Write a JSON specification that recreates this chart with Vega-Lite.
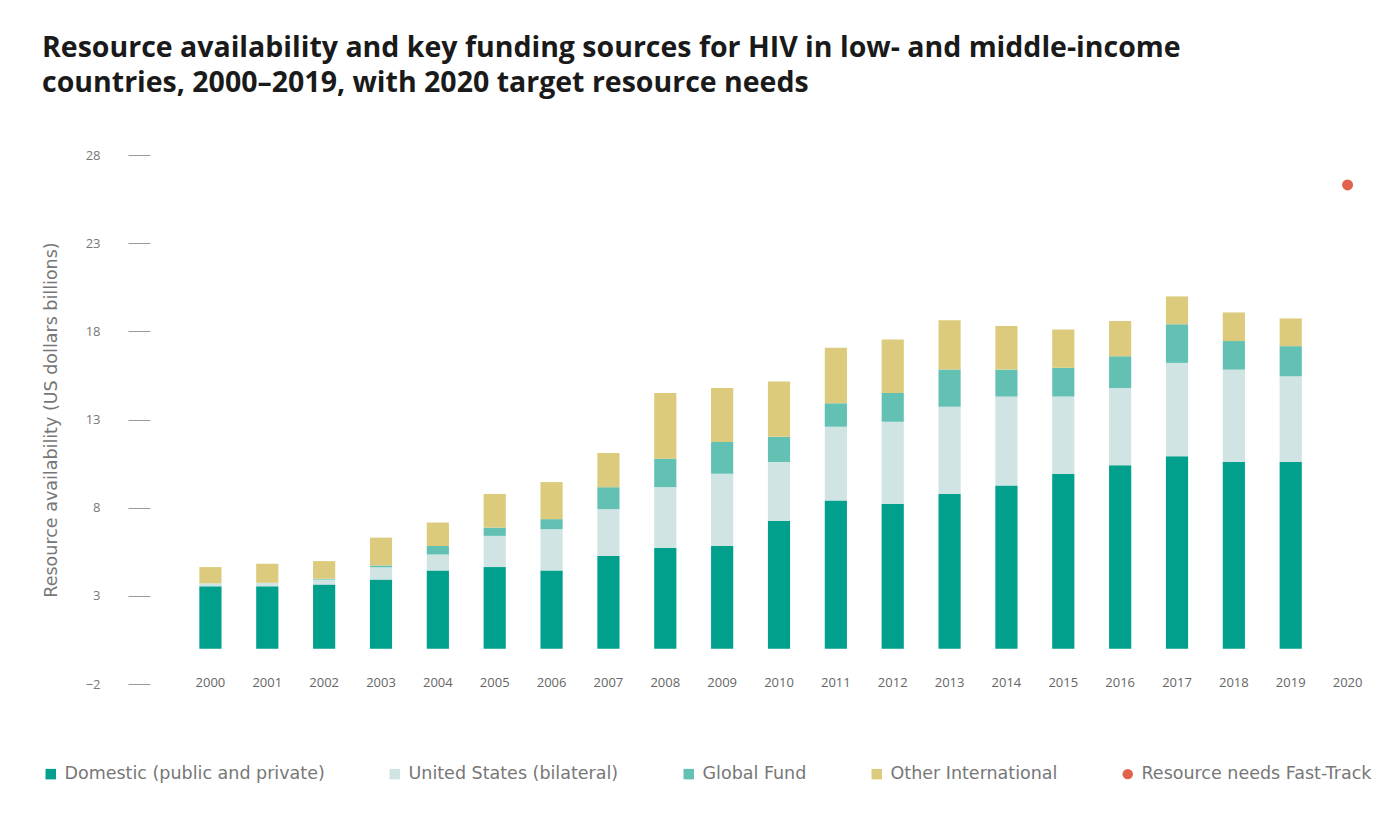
{
  "$schema": "https://vega.github.io/schema/vega-lite/v6.json",
  "width": 1194,
  "height": 529,
  "autosize": {"type": "none"},
  "padding": {"left": 182, "top": 155, "right": 5, "bottom": 140},
  "background": "white",
  "title": {
    "text": ["Resource availability and key funding sources for HIV in low- and middle-income", "countries, 2000–2019, with 2020 target resource needs"],
    "anchor": "start",
    "frame": "group",
    "dx": -140,
    "offset": 52,
    "font": "Open Sans",
    "fontSize": 28.5,
    "fontWeight": "bold",
    "color": "#1a1a1a",
    "lineHeight": 35
  },
  "config": {
    "view": {"stroke": null},
    "axis": {"labelFont": "Open Sans", "titleFont": "DejaVu Sans", "labelColor": "#777777", "titleColor": "#777777"},
    "legend": {"labelFont": "DejaVu Sans"}
  },
  "datasets": {
    "funding": [
      {"year": "2000", "source": "Domestic (public and private)", "rank": 1, "value": 3.54},
      {"year": "2000", "source": "United States (bilateral)", "rank": 2, "value": 0.17},
      {"year": "2000", "source": "Global Fund", "rank": 3, "value": 0.0},
      {"year": "2000", "source": "Other International", "rank": 4, "value": 0.92},
      {"year": "2001", "source": "Domestic (public and private)", "rank": 1, "value": 3.54},
      {"year": "2001", "source": "United States (bilateral)", "rank": 2, "value": 0.2},
      {"year": "2001", "source": "Global Fund", "rank": 3, "value": 0.0},
      {"year": "2001", "source": "Other International", "rank": 4, "value": 1.08},
      {"year": "2002", "source": "Domestic (public and private)", "rank": 1, "value": 3.64},
      {"year": "2002", "source": "United States (bilateral)", "rank": 2, "value": 0.28},
      {"year": "2002", "source": "Global Fund", "rank": 3, "value": 0.05},
      {"year": "2002", "source": "Other International", "rank": 4, "value": 1.0},
      {"year": "2003", "source": "Domestic (public and private)", "rank": 1, "value": 3.92},
      {"year": "2003", "source": "United States (bilateral)", "rank": 2, "value": 0.7},
      {"year": "2003", "source": "Global Fund", "rank": 3, "value": 0.1},
      {"year": "2003", "source": "Other International", "rank": 4, "value": 1.58},
      {"year": "2004", "source": "Domestic (public and private)", "rank": 1, "value": 4.44},
      {"year": "2004", "source": "United States (bilateral)", "rank": 2, "value": 0.91},
      {"year": "2004", "source": "Global Fund", "rank": 3, "value": 0.48},
      {"year": "2004", "source": "Other International", "rank": 4, "value": 1.33},
      {"year": "2005", "source": "Domestic (public and private)", "rank": 1, "value": 4.63},
      {"year": "2005", "source": "United States (bilateral)", "rank": 2, "value": 1.77},
      {"year": "2005", "source": "Global Fund", "rank": 3, "value": 0.47},
      {"year": "2005", "source": "Other International", "rank": 4, "value": 1.91},
      {"year": "2006", "source": "Domestic (public and private)", "rank": 1, "value": 4.44},
      {"year": "2006", "source": "United States (bilateral)", "rank": 2, "value": 2.34},
      {"year": "2006", "source": "Global Fund", "rank": 3, "value": 0.57},
      {"year": "2006", "source": "Other International", "rank": 4, "value": 2.1},
      {"year": "2007", "source": "Domestic (public and private)", "rank": 1, "value": 5.26},
      {"year": "2007", "source": "United States (bilateral)", "rank": 2, "value": 2.66},
      {"year": "2007", "source": "Global Fund", "rank": 3, "value": 1.24},
      {"year": "2007", "source": "Other International", "rank": 4, "value": 1.94},
      {"year": "2008", "source": "Domestic (public and private)", "rank": 1, "value": 5.73},
      {"year": "2008", "source": "United States (bilateral)", "rank": 2, "value": 3.43},
      {"year": "2008", "source": "Global Fund", "rank": 3, "value": 1.62},
      {"year": "2008", "source": "Other International", "rank": 4, "value": 3.72},
      {"year": "2009", "source": "Domestic (public and private)", "rank": 1, "value": 5.83},
      {"year": "2009", "source": "United States (bilateral)", "rank": 2, "value": 4.1},
      {"year": "2009", "source": "Global Fund", "rank": 3, "value": 1.8},
      {"year": "2009", "source": "Other International", "rank": 4, "value": 3.05},
      {"year": "2010", "source": "Domestic (public and private)", "rank": 1, "value": 7.26},
      {"year": "2010", "source": "United States (bilateral)", "rank": 2, "value": 3.33},
      {"year": "2010", "source": "Global Fund", "rank": 3, "value": 1.43},
      {"year": "2010", "source": "Other International", "rank": 4, "value": 3.14},
      {"year": "2011", "source": "Domestic (public and private)", "rank": 1, "value": 8.4},
      {"year": "2011", "source": "United States (bilateral)", "rank": 2, "value": 4.19},
      {"year": "2011", "source": "Global Fund", "rank": 3, "value": 1.33},
      {"year": "2011", "source": "Other International", "rank": 4, "value": 3.15},
      {"year": "2012", "source": "Domestic (public and private)", "rank": 1, "value": 8.21},
      {"year": "2012", "source": "United States (bilateral)", "rank": 2, "value": 4.66},
      {"year": "2012", "source": "Global Fund", "rank": 3, "value": 1.63},
      {"year": "2012", "source": "Other International", "rank": 4, "value": 3.04},
      {"year": "2013", "source": "Domestic (public and private)", "rank": 1, "value": 8.78},
      {"year": "2013", "source": "United States (bilateral)", "rank": 2, "value": 4.95},
      {"year": "2013", "source": "Global Fund", "rank": 3, "value": 2.1},
      {"year": "2013", "source": "Other International", "rank": 4, "value": 2.8},
      {"year": "2014", "source": "Domestic (public and private)", "rank": 1, "value": 9.26},
      {"year": "2014", "source": "United States (bilateral)", "rank": 2, "value": 5.04},
      {"year": "2014", "source": "Global Fund", "rank": 3, "value": 1.53},
      {"year": "2014", "source": "Other International", "rank": 4, "value": 2.47},
      {"year": "2015", "source": "Domestic (public and private)", "rank": 1, "value": 9.93},
      {"year": "2015", "source": "United States (bilateral)", "rank": 2, "value": 4.37},
      {"year": "2015", "source": "Global Fund", "rank": 3, "value": 1.63},
      {"year": "2015", "source": "Other International", "rank": 4, "value": 2.18},
      {"year": "2016", "source": "Domestic (public and private)", "rank": 1, "value": 10.4},
      {"year": "2016", "source": "United States (bilateral)", "rank": 2, "value": 4.38},
      {"year": "2016", "source": "Global Fund", "rank": 3, "value": 1.81},
      {"year": "2016", "source": "Other International", "rank": 4, "value": 2.0},
      {"year": "2017", "source": "Domestic (public and private)", "rank": 1, "value": 10.91},
      {"year": "2017", "source": "United States (bilateral)", "rank": 2, "value": 5.3},
      {"year": "2017", "source": "Global Fund", "rank": 3, "value": 2.19},
      {"year": "2017", "source": "Other International", "rank": 4, "value": 1.58},
      {"year": "2018", "source": "Domestic (public and private)", "rank": 1, "value": 10.59},
      {"year": "2018", "source": "United States (bilateral)", "rank": 2, "value": 5.24},
      {"year": "2018", "source": "Global Fund", "rank": 3, "value": 1.62},
      {"year": "2018", "source": "Other International", "rank": 4, "value": 1.62},
      {"year": "2019", "source": "Domestic (public and private)", "rank": 1, "value": 10.59},
      {"year": "2019", "source": "United States (bilateral)", "rank": 2, "value": 4.86},
      {"year": "2019", "source": "Global Fund", "rank": 3, "value": 1.71},
      {"year": "2019", "source": "Other International", "rank": 4, "value": 1.57}
    ],
    "needs": [
      {"year": "2020", "source": "Resource needs Fast-Track", "value": 26.3}
    ]
  },
  "encoding": {
    "x": {
      "field": "year",
      "type": "ordinal",
      "scale": {
        "domain": ["2000","2001","2002","2003","2004","2005","2006","2007","2008","2009","2010","2011","2012","2013","2014","2015","2016","2017","2018","2019","2020"],
        "paddingInner": 0.61,
        "paddingOuter": 0.305
      },
      "axis": {
        "title": null,
        "domain": false,
        "ticks": false,
        "labelAngle": 0,
        "labelBaseline": "middle",
        "labelPadding": -2,
        "labelFontSize": 13,
        "labelColor": "#666666"
      }
    }
  },
  "layer": [
    {
      "data": {"name": "funding"},
      "mark": {"type": "bar"},
      "encoding": {
        "y": {
          "field": "value",
          "type": "quantitative",
          "stack": "zero",
          "scale": {"domain": [-2, 28], "nice": false, "zero": false},
          "axis": {
            "title": "Resource availability (US dollars billions)",
            "values": [-2, 3, 8, 13, 18, 23, 28],
            "grid": false,
            "domain": false,
            "offset": 32,
            "tickSize": 22,
            "tickColor": "#9a9a9a",
            "tickWidth": 1,
            "labelPadding": 28,
            "labelFontSize": 13,
            "titleFontSize": 17.5,
            "titleFontWeight": "normal",
            "titlePadding": 25
          }
        },
        "order": {"field": "rank", "type": "quantitative", "sort": "ascending"},
        "color": {
          "field": "source",
          "type": "nominal",
          "sort": ["Domestic (public and private)", "United States (bilateral)", "Global Fund", "Other International", "Resource needs Fast-Track"],
          "scale": {
            "domain": ["Domestic (public and private)", "United States (bilateral)", "Global Fund", "Other International", "Resource needs Fast-Track"],
            "range": ["#00a08c", "#cfe4e3", "#63c1b4", "#dccb7c", "#e0624c"]
          },
          "legend": {
            "title": null,
            "orient": "none",
            "direction": "horizontal",
            "columns": 5,
            "legendX": -140,
            "legendY": 610,
            "columnPadding": 61,
            "symbolSize": 110,
            "labelFontSize": 17.5,
            "labelColor": "#777777",
            "labelOffset": 5,
            "labelLimit": 400,
            "encode": {
              "symbols": {
                "update": {
                  "shape": {"signal": "datum.value === 'Resource needs Fast-Track' ? 'circle' : 'square'"},
                  "strokeWidth": {"value": 0}
                }
              }
            }
          }
        }
      }
    },
    {
      "mark": {"type": "rule", "color": "#8a8a8a", "strokeWidth": 2.5},
      "encoding": {"y": {"datum": 0}}
    },
    {
      "data": {"name": "needs"},
      "mark": {"type": "point", "filled": true, "opacity": 1, "size": 120},
      "encoding": {
        "y": {"field": "value", "type": "quantitative"},
        "color": {"field": "source", "type": "nominal"}
      }
    }
  ]
}
